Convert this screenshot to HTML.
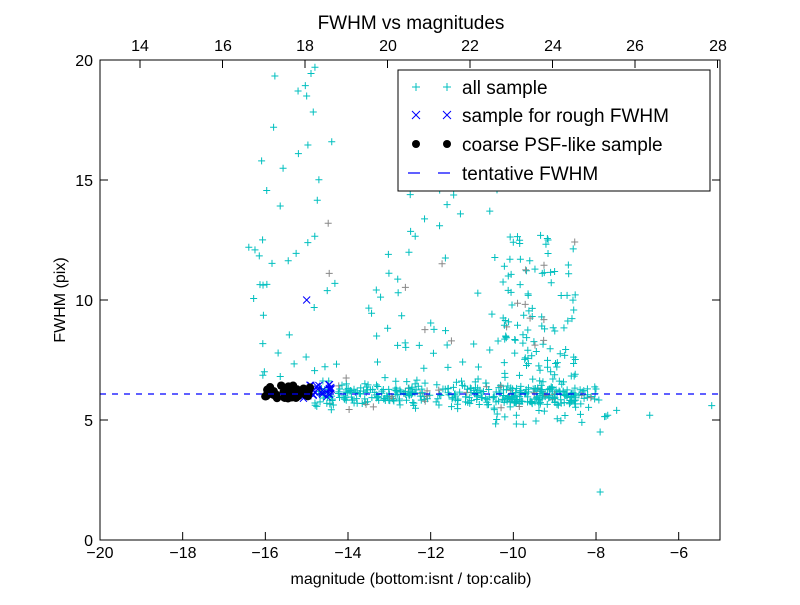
<!DOCTYPE html>
<html><head><meta charset="utf-8"><style>
body{margin:0;background:#fff}
svg text{font-family:"Liberation Sans",sans-serif;fill:#000}
</style></head><body>
<svg id="s" width="800" height="600" xmlns="http://www.w3.org/2000/svg">
<rect width="800" height="600" fill="#fff"/>
<g id="pts"></g>
<line x1="100" y1="394" x2="720" y2="394" stroke="#0000ff" stroke-width="1.3" stroke-dasharray="6,6"/>
<rect x="100" y="60" width="620" height="480" fill="none" stroke="#000" stroke-width="1"/>
<g id="ticks" stroke="#000"></g>
<g font-size="16" text-anchor="middle">
<text x="100" y="558">−20</text><text x="183" y="558">−18</text><text x="265" y="558">−16</text><text x="348" y="558">−14</text><text x="431" y="558">−12</text><text x="513" y="558">−10</text><text x="596" y="558">−8</text><text x="679" y="558">−6</text>
<text x="140" y="51">14</text><text x="223" y="51">16</text><text x="305" y="51">18</text><text x="388" y="51">20</text><text x="470" y="51">22</text><text x="553" y="51">24</text><text x="635" y="51">26</text><text x="718" y="51">28</text>
</g>
<g font-size="16" text-anchor="end">
<text x="93" y="546">0</text><text x="93" y="426">5</text><text x="93" y="306">10</text><text x="93" y="186">15</text><text x="93" y="66">20</text>
</g>
<text x="411" y="29" font-size="19" text-anchor="middle">FWHM vs magnitudes</text>
<text x="411" y="584" font-size="16" text-anchor="middle">magnitude (bottom:isnt / top:calib)</text>
<text transform="translate(65,300) rotate(-90)" font-size="16" text-anchor="middle">FWHM (pix)</text>
<rect x="398" y="70" width="312" height="121" fill="#fff" stroke="#000"/>
<g stroke="#00bfbf" stroke-width="1"><path d="M412 87h8M416 83v8M443 87h8M447 83v8"/></g>
<g stroke="#0000ff" stroke-width="1"><path d="M412 111l8 8M420 111l-8 8M443 111l8 8M451 111l-8 8"/></g>
<circle cx="416" cy="144" r="4" fill="#000"/><circle cx="447" cy="144" r="4" fill="#000"/>
<path d="M408 173h12M438 173h12" stroke="#0000ff" stroke-width="1.3"/>
<g font-size="19">
<text x="462" y="94">all sample</text><text x="462" y="122">sample for rough FWHM</text><text x="462" y="151">coarse PSF-like sample</text><text x="462" y="180">tentative FWHM</text>
</g>
</svg>
<script>
var seed=11;function r(){seed=(seed*16807)%2147483647;return seed/2147483647;}
function n(){return (r()+r()+r()-1.5)*1.4;}
var X=function(m){return 100+(m+20)*41.333},Y=function(f){return 540-f*24};
var g=document.getElementById('pts'),h='';
function plus(m,f,c){var x=X(m),y=Y(f);h+='<path d="M'+(x-3.5)+' '+y+'h7M'+x+' '+(y-3.5)+'v7" stroke="'+c+'" fill="none"/>';}
function cross(m,f){var x=X(m),y=Y(f);h+='<path d="M'+(x-3.5)+' '+(y-3.5)+'l7 7M'+(x+3.5)+' '+(y-3.5)+'l-7 7" stroke="#0000ff" fill="none"/>';}
function dot(m,f){h+='<circle cx="'+X(m)+'" cy="'+Y(f)+'" r="4.2" fill="#000"/>';}
function col(){return r()<0.08?'#888':'#00bfbf';}
var i;
for(i=0;i<340;i++){var m=-14.8+r()*6.8;plus(m,6.05+n()*0.35,col());}
for(i=0;i<150;i++){var m=-10.3+r()*1.8;plus(m,5.7+Math.pow(r(),1.6)*7,col());}
for(i=0;i<45;i++){var m=-16.3+r()*2.3;plus(m,6.5+Math.pow(r(),1.8)*13,col());}
for(i=0;i<60;i++){var m=-13.5+r()*3.3;plus(m,6.5+Math.pow(r(),1.5)*9,col());}
for(i=0;i<30;i++){var m=-10.5+r()*2.8;plus(m,4.8+r()*1.2,col());}
[[-7.9,2],[-5.2,5.6],[-6.7,5.2],[-7.9,4.5],[-7.5,5.4],[-14.8,19.7],[-15,18.5],[-16.4,12.2],[-15.8,17.2],[-15.2,16.1]].forEach(function(p){plus(p[0],p[1],'#00bfbf')});
for(i=0;i<30;i++){cross(-15.1+r()*0.7,5.9+r()*0.6);}
cross(-15,10);
for(i=0;i<55;i++){dot(-16+r()*1.1,5.9+r()*0.55);}
g.innerHTML=h;
var t='',k;
for(k=0;k<8;k++){var x=100+k*82.67;t+='<path d="M'+x+' 540v-8"/>';}
for(k=0;k<8;k++){var x=140+k*82.5;t+='<path d="M'+x+' 60v8"/>';}
for(k=0;k<5;k++){var y=540-k*120;t+='<path d="M100 '+y+'h8M720 '+y+'h-8"/>';}
document.getElementById('ticks').innerHTML=t;
</script>
</body></html>
